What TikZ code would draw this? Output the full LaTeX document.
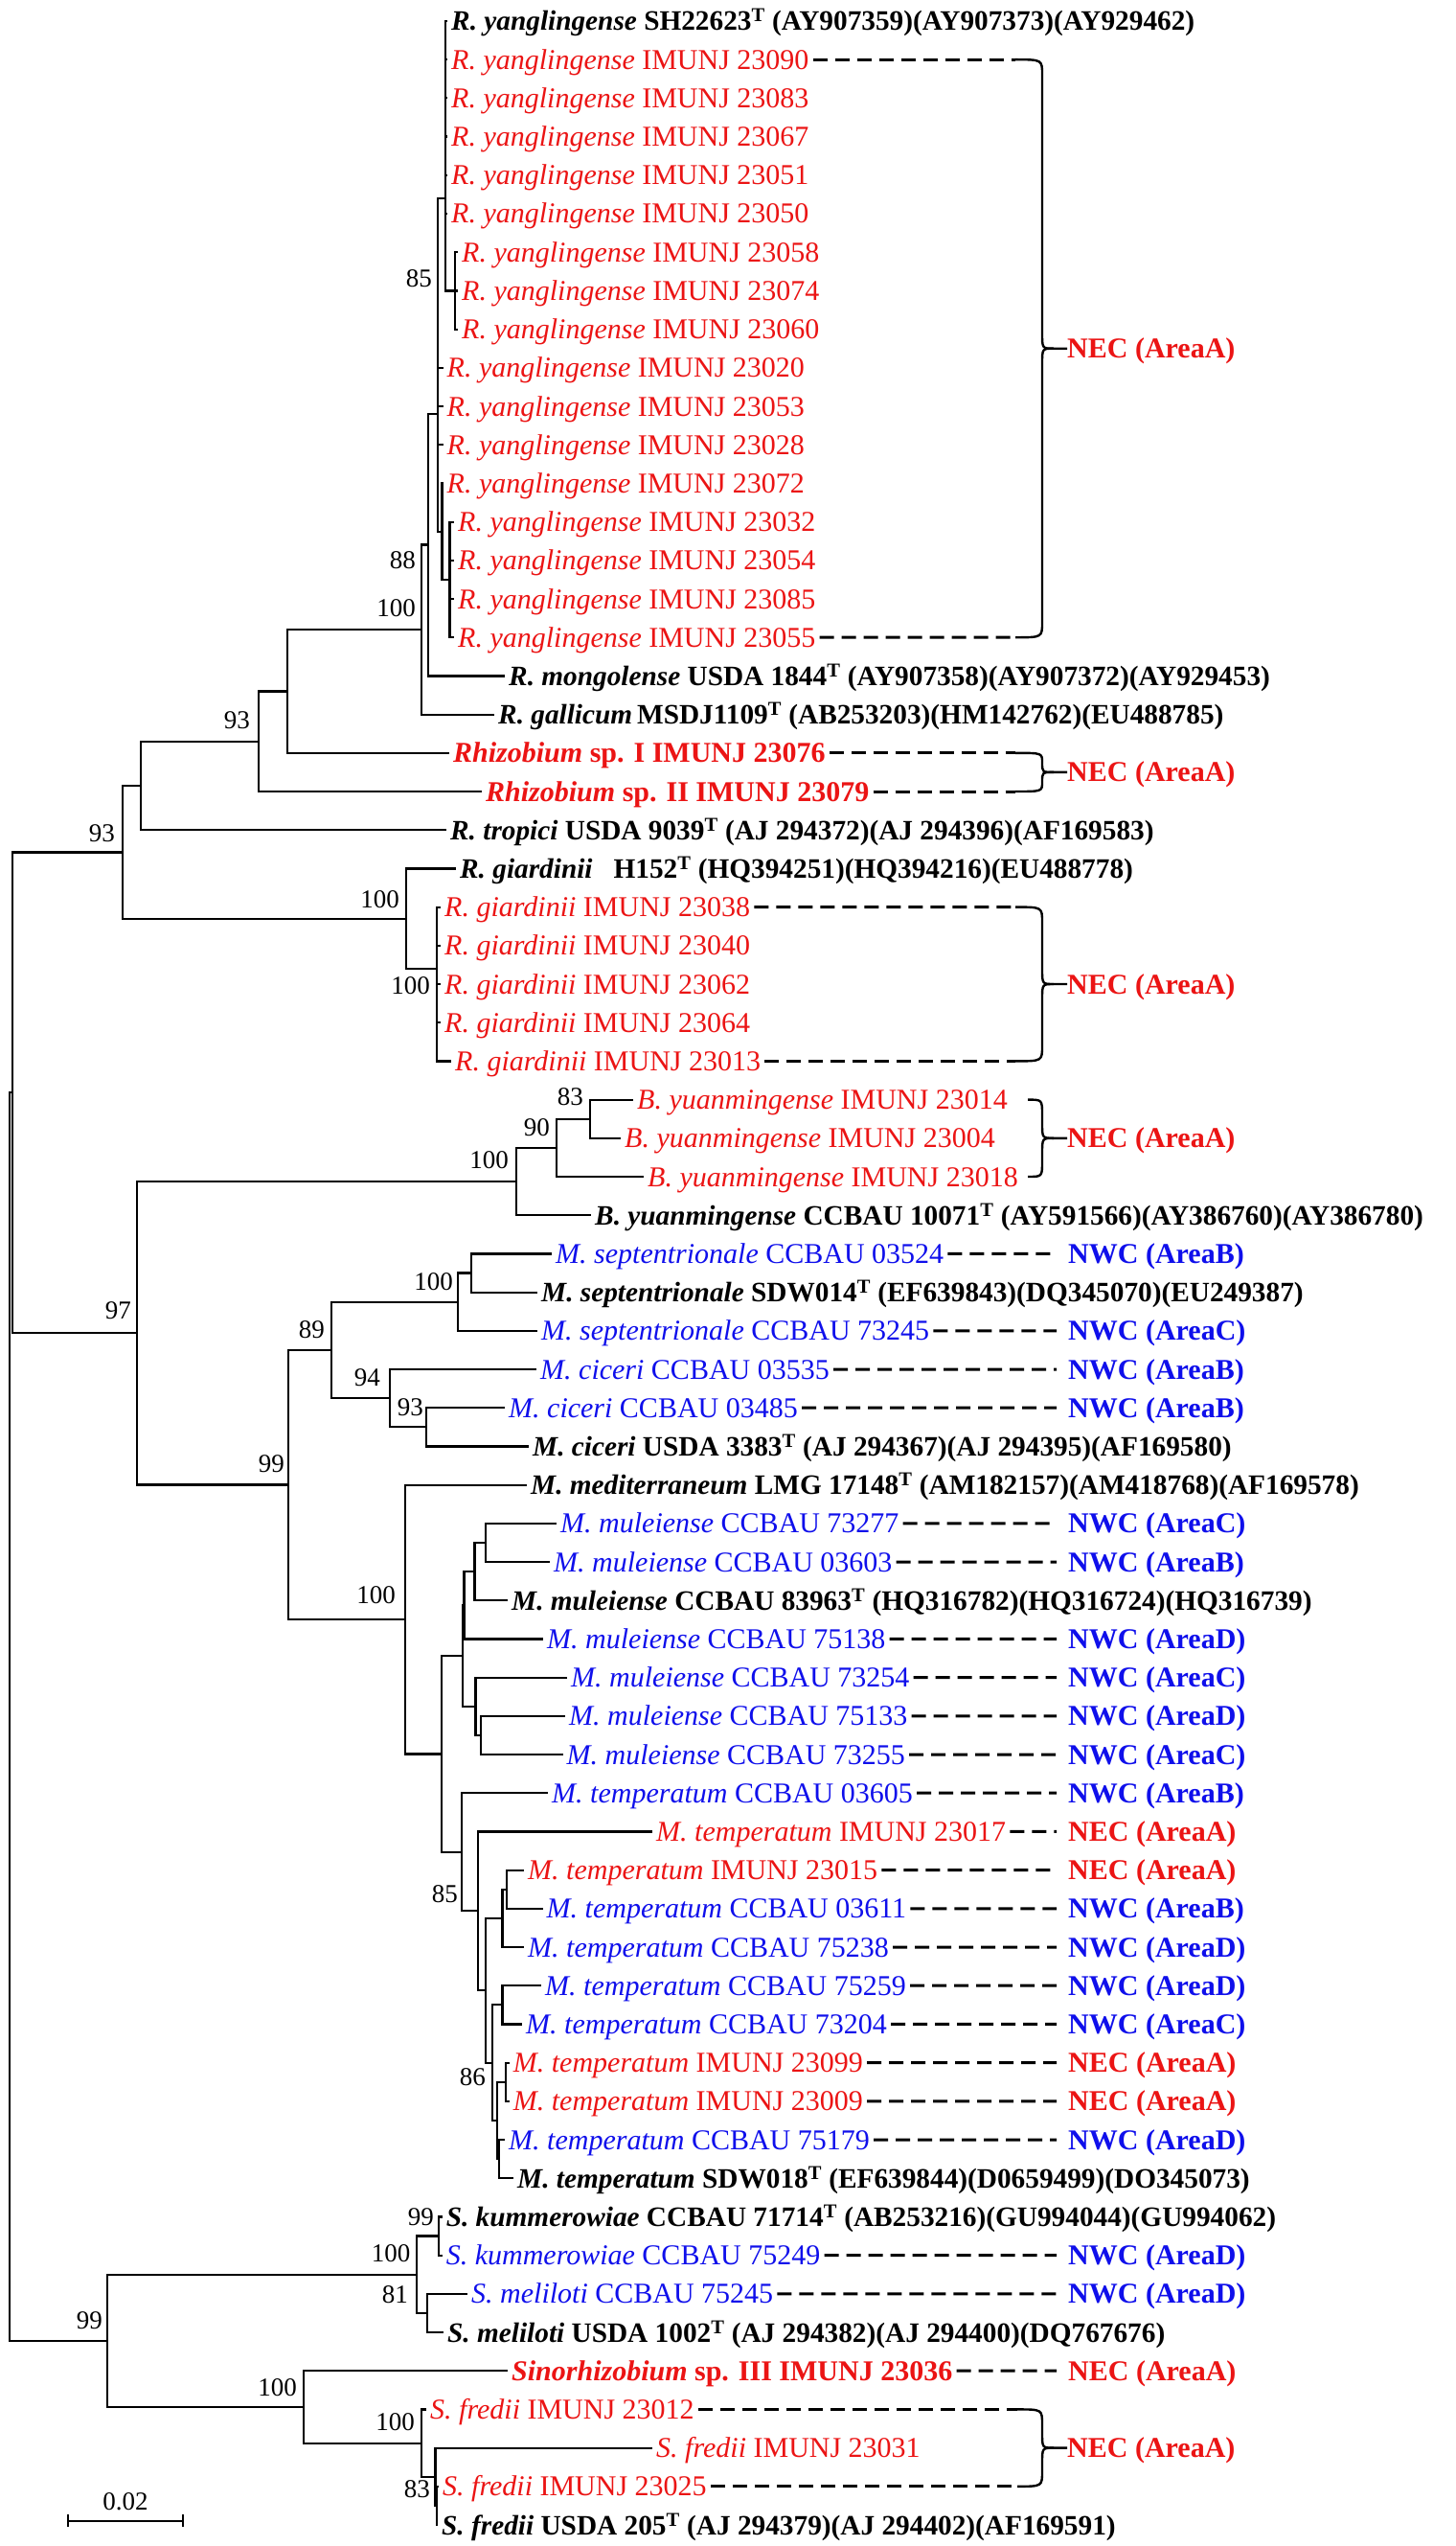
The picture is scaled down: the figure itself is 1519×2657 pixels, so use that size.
\documentclass[tikz,border=0pt]{standalone}
\usepackage{fontspec}
\setmainfont{Liberation Serif}
\definecolor{necred}{RGB}{235,20,20}
\definecolor{nwcblue}{RGB}{15,15,235}

\tikzset{
  branch/.style={line width=2.2pt},
  leaf/.style={anchor=west, inner xsep=4pt, inner ysep=0pt, text height=20pt, text depth=0pt,
    font=\fontsize{30}{36}\selectfont},
  typestr/.style={leaf, font=\fontsize{29.3}{36}\selectfont\bfseries},
  boot/.style={anchor=east, inner sep=0pt, font=\fontsize{27}{32}\selectfont},
  area/.style={anchor=west, inner sep=0pt, text height=20pt, text depth=0pt,
    font=\fontsize{30}{36}\selectfont\bfseries},
  dashln/.style={line width=3pt, dash pattern=on 15pt off 8pt},
  dashto/.style={dashln, shorten >=12pt},
  bracket/.style={line width=2.4pt},
}

% #1 start x, #2 top y, #3 bottom y, #4 label, #5 corner
\newcommand{\areabrace}[5]{%
  \draw[bracket] (#1,#2) .. controls (1088,#2) .. (1088,{#2+#5}) -- (1088,{(#2+#3)/2-#5})
    .. controls (1088,{(#2+#3)/2}) .. (1100,{(#2+#3)/2}) -- (#4.west);
  \draw[bracket] (#1,#3) .. controls (1088,#3) .. (1088,{#3-#5}) -- (1088,{(#2+#3)/2+#5})
    .. controls (1088,{(#2+#3)/2}) .. (1100,{(#2+#3)/2});
}

\begin{document}
\begin{tikzpicture}[x=1pt,y=-1pt]
  \useasboundingbox (0,0) rectangle (1519,2657);

  % inner nodes
  \coordinate (root) at (10,1791.5);
  \coordinate (nA) at (13.3,1140.3);
  \coordinate (nR93o) at (128,889.4);
  \coordinate (nR1) at (147,820);
  \coordinate (nR93i) at (270,773.7);
  \coordinate (nR100a) at (300,721.4);
  \coordinate (nR100y) at (440,657);
  \coordinate (nR88) at (447,568.5);
  \coordinate (nY85) at (457,431.6);
  \coordinate (nV1) at (464.6,207);
  \coordinate (nY7) at (475,303.4);
  \coordinate (nY13) at (461.5,554.6);
  \coordinate (nY14) at (469.5,604.9);
  \coordinate (nG1) at (424,958.7);
  \coordinate (nG2) at (456,1011);
  \coordinate (n97) at (143,1391.3);
  \coordinate (nB100) at (539,1233);
  \coordinate (nB90) at (581,1197.9);
  \coordinate (nB83) at (616,1167.7);
  \coordinate (nM99) at (301,1549.5);
  \coordinate (nM89) at (346,1409);
  \coordinate (nMs100) at (478,1358.7);
  \coordinate (nMs) at (492,1328.5);
  \coordinate (nMc94) at (407,1459.2);
  \coordinate (nMc93) at (445,1489.3);
  \coordinate (nM100) at (423,1690);
  \coordinate (nMm) at (461,1830.4);
  \coordinate (nMu1) at (483,1728);
  \coordinate (nMu2) at (484.4,1675.2);
  \coordinate (nMu3) at (495.5,1640);
  \coordinate (nMu4) at (507,1609.9);
  \coordinate (nMu5) at (496.5,1780.8);
  \coordinate (nMu6) at (502,1810.9);
  \coordinate (nMt85) at (482,1932.8);
  \coordinate (nMt2) at (498.7,1994.3);
  \coordinate (nMt3) at (507,2077.3);
  \coordinate (nMt4) at (524.5,2001.9);
  \coordinate (nMt5) at (529,1971.7);
  \coordinate (nMt86) at (514,2152.6);
  \coordinate (nMt6) at (524.5,2092.3);
  \coordinate (nMt7) at (518.7,2212.9);
  \coordinate (nMt8) at (527.7,2172.7);
  \coordinate (nMt9) at (521,2253.1);
  \coordinate (nS99) at (111.6,2442.8);
  \coordinate (nS100a) at (435,2373.7);
  \coordinate (nSk) at (457.6,2333.5);
  \coordinate (nSm) at (446,2413.9);
  \coordinate (nS100b) at (317,2511.9);
  \coordinate (nSf100) at (440,2549.6);
  \coordinate (nSf83) at (454.5,2584.8);
  \coordinate (nSf2) at (456,2614.9);

  % Rhizobium leaves
  \node[typestr] (l1) at (467,22) {\textit{R. yanglingense} SH22623\textsuperscript{T} (AY907359)(AY907373)(AY929462)};
  \foreach \n/\id in {2/23090,3/23083,4/23067,5/23051,6/23050}
    \node[leaf,necred] (l\n) at (467,{22+(\n-1)*40.2}) {\textit{R. yanglingense} IMUNJ \id};
  \foreach \n/\id in {7/23058,8/23074,9/23060}
    \node[leaf,necred] (l\n) at (478,{22+(\n-1)*40.2}) {\textit{R. yanglingense} IMUNJ \id};
  \foreach \n/\id in {10/23020,11/23053,12/23028,13/23072}
    \node[leaf,necred] (l\n) at (462.5,{22+(\n-1)*40.2}) {\textit{R. yanglingense} IMUNJ \id};
  \foreach \n/\id in {14/23032,15/23054,16/23085,17/23055}
    \node[leaf,necred] (l\n) at (474,{22+(\n-1)*40.2}) {\textit{R. yanglingense} IMUNJ \id};
  \node[typestr] (l18) at (527,705.4) {\textit{R. mongolense} USDA 1844\textsuperscript{T} (AY907358)(AY907372)(AY929453)};
  \node[typestr] (l19) at (516,745.6) {\textit{R. gallicum}\,MSDJ1109\textsuperscript{T} (AB253203)(HM142762)(EU488785)};
  \node[leaf,necred] (l20) at (469,785.8) {\textbf{\textit{Rhizobium} sp. I IMUNJ 23076}};
  \node[leaf,necred] (l21) at (503,826) {\textbf{\textit{Rhizobium} sp. II IMUNJ 23079}};
  \node[typestr] (l22) at (466,866.2) {\textit{R. tropici} USDA 9039\textsuperscript{T} (AJ 294372)(AJ 294396)(AF169583)};
  \node[typestr] (l23) at (476,906.4) {\textit{R. giardinii}\hspace{0.5em} H152\textsuperscript{T} (HQ394251)(HQ394216)(EU488778)};
  \foreach \n/\id in {24/23038,25/23040,26/23062,27/23064}
    \node[leaf,necred] (l\n) at (460,{22+(\n-1)*40.2}) {\textit{R. giardinii} IMUNJ \id};
  \node[leaf,necred] (l28) at (471,1107.4) {\textit{R. giardinii} IMUNJ 23013};

  % Bradyrhizobium leaves
  \node[leaf,necred] (l29) at (661,1147.6) {\textit{B. yuanmingense} IMUNJ 23014};
  \node[leaf,necred] (l30) at (648,1187.8) {\textit{B. yuanmingense} IMUNJ 23004};
  \node[leaf,necred] (l31) at (672,1228) {\textit{B. yuanmingense} IMUNJ 23018};
  \node[typestr] (l32) at (617,1268.2) {\textit{B. yuanmingense} CCBAU 10071\textsuperscript{T} (AY591566)(AY386760)(AY386780)};

  % Mesorhizobium leaves
  \node[leaf,nwcblue] (l33) at (576,1308.4) {\textit{M. septentrionale} CCBAU 03524};
  \node[typestr] (l34) at (561,1348.6) {\textit{M. septentrionale} SDW014\textsuperscript{T} (EF639843)(DQ345070)(EU249387)};
  \node[leaf,nwcblue] (l35) at (561,1388.8) {\textit{M. septentrionale} CCBAU 73245};
  \node[leaf,nwcblue] (l36) at (560,1429) {\textit{M. ciceri} CCBAU 03535};
  \node[leaf,nwcblue] (l37) at (527,1469.2) {\textit{M. ciceri} CCBAU 03485};
  \node[typestr] (l38) at (552,1509.4) {\textit{M. ciceri} USDA 3383\textsuperscript{T} (AJ 294367)(AJ 294395)(AF169580)};
  \node[typestr] (l39) at (550,1549.6) {\textit{M. mediterraneum} LMG 17148\textsuperscript{T} (AM182157)(AM418768)(AF169578)};
  \node[leaf,nwcblue] (l40) at (581,1589.8) {\textit{M. muleiense} CCBAU 73277};
  \node[leaf,nwcblue] (l41) at (574,1630) {\textit{M. muleiense} CCBAU 03603};
  \node[typestr] (l42) at (530,1670.2) {\textit{M. muleiense} CCBAU 83963\textsuperscript{T} (HQ316782)(HQ316724)(HQ316739)};
  \node[leaf,nwcblue] (l43) at (567,1710.4) {\textit{M. muleiense} CCBAU 75138};
  \node[leaf,nwcblue] (l44) at (592,1750.6) {\textit{M. muleiense} CCBAU 73254};
  \node[leaf,nwcblue] (l45) at (590,1790.8) {\textit{M. muleiense} CCBAU 75133};
  \node[leaf,nwcblue] (l46) at (587.5,1831) {\textit{M. muleiense} CCBAU 73255};
  \node[leaf,nwcblue] (l47) at (572,1871.2) {\textit{M. temperatum} CCBAU 03605};
  \node[leaf,necred] (l48) at (681,1911.4) {\textit{M. temperatum} IMUNJ 23017};
  \node[leaf,necred] (l49) at (547,1951.6) {\textit{M. temperatum} IMUNJ 23015};
  \node[leaf,nwcblue] (l50) at (566.5,1991.8) {\textit{M. temperatum} CCBAU 03611};
  \node[leaf,nwcblue] (l51) at (547,2032) {\textit{M. temperatum} CCBAU 75238};
  \node[leaf,nwcblue] (l52) at (565,2072.2) {\textit{M. temperatum} CCBAU 75259};
  \node[leaf,nwcblue] (l53) at (545,2112.4) {\textit{M. temperatum} CCBAU 73204};
  \node[leaf,necred] (l54) at (531.7,2152.6) {\textit{M. temperatum} IMUNJ 23099};
  \node[leaf,necred] (l55) at (531.7,2192.8) {\textit{M. temperatum} IMUNJ 23009};
  \node[leaf,nwcblue] (l56) at (527,2233) {\textit{M. temperatum} CCBAU 75179};
  \node[typestr] (l57) at (536,2273.2) {\textit{M. temperatum} SDW018\textsuperscript{T} (EF639844)(D0659499)(DO345073)};

  % Sinorhizobium leaves
  \node[typestr] (l58) at (461.6,2313.4) {\textit{S. kummerowiae} CCBAU 71714\textsuperscript{T} (AB253216)(GU994044)(GU994062)};
  \node[leaf,nwcblue] (l59) at (461.6,2353.6) {\textit{S. kummerowiae} CCBAU 75249};
  \node[leaf,nwcblue] (l60) at (488,2393.8) {\textit{S. meliloti} CCBAU 75245};
  \node[typestr] (l61) at (463,2434) {\textit{S. meliloti} USDA 1002\textsuperscript{T} (AJ 294382)(AJ 294400)(DQ767676)};
  \node[leaf,necred] (l62) at (530,2474.2) {\textbf{\textit{Sinorhizobium} sp. III IMUNJ 23036}};
  \node[leaf,necred] (l63) at (445,2514.4) {\textit{S. fredii} IMUNJ 23012};
  \node[leaf,necred] (l64) at (681,2554.6) {\textit{S. fredii} IMUNJ 23031};
  \node[leaf,necred] (l65) at (458,2594.8) {\textit{S. fredii} IMUNJ 23025};
  \node[typestr] (l66) at (457,2635) {\textit{S. fredii} USDA 205\textsuperscript{T} (AJ 294379)(AJ 294402)(AF169591)};

  % Branches
  \draw[branch] (root) |- (nA);
  \draw[branch] (root) |- (nS99);
  \draw[branch] (nA) |- (nR93o);
  \draw[branch] (nA) |- (n97);
  \draw[branch] (nR93o) |- (nR1);
  \draw[branch] (nR93o) |- (nG1);
  \draw[branch] (nR1) |- (nR93i);
  \draw[branch] (nR1) |- (l22.west);
  \draw[branch] (nR93i) |- (nR100a);
  \draw[branch] (nR93i) |- (l21.west);
  \draw[branch] (nR100a) |- (nR100y);
  \draw[branch] (nR100a) |- (l20.west);
  \draw[branch] (nR100y) |- (nR88);
  \draw[branch] (nR100y) |- (l19.west);
  \draw[branch] (nR88) |- (nY85);
  \draw[branch] (nR88) |- (l18.west);
  \draw[branch] (nY85) |- (nV1);
  \draw[branch] (nY85) |- (nY13);
  \foreach \n in {10,11,12} \draw[branch] (nY85) |- (l\n.west);
  \foreach \n in {1,...,6} \draw[branch] (nV1) |- (l\n.west);
  \draw[branch] (nV1) |- (nY7);
  \foreach \n in {7,8,9} \draw[branch] (nY7) |- (l\n.west);
  \draw[branch] (nY13) |- (l13.west);
  \draw[branch] (nY13) |- (nY14);
  \foreach \n in {14,...,17} \draw[branch] (nY14) |- (l\n.west);
  \draw[branch] (nG1) |- (l23.west);
  \draw[branch] (nG1) |- (nG2);
  \foreach \n in {24,...,28} \draw[branch] (nG2) |- (l\n.west);

  \draw[branch] (n97) |- (nB100);
  \draw[branch] (n97) |- (nM99);
  \draw[branch] (nB100) |- (nB90);
  \draw[branch] (nB100) |- (l32.west);
  \draw[branch] (nB90) |- (nB83);
  \draw[branch] (nB90) |- (l31.west);
  \draw[branch] (nB83) |- (l29.west);
  \draw[branch] (nB83) |- (l30.west);

  \draw[branch] (nM99) |- (nM89);
  \draw[branch] (nM99) |- (nM100);
  \draw[branch] (nM89) |- (nMs100);
  \draw[branch] (nM89) |- (nMc94);
  \draw[branch] (nMs100) |- (nMs);
  \draw[branch] (nMs100) |- (l35.west);
  \draw[branch] (nMs) |- (l33.west);
  \draw[branch] (nMs) |- (l34.west);
  \draw[branch] (nMc94) |- (l36.west);
  \draw[branch] (nMc94) |- (nMc93);
  \draw[branch] (nMc93) |- (l37.west);
  \draw[branch] (nMc93) |- (l38.west);
  \draw[branch] (nM100) |- (l39.west);
  \draw[branch] (nM100) |- (nMm);
  \draw[branch] (nMm) |- (nMu1);
  \draw[branch] (nMm) |- (nMt85);
  \draw[branch] (nMu1) |- (nMu2);
  \draw[branch] (nMu1) |- (nMu5);
  \draw[branch] (nMu2) |- (nMu3);
  \draw[branch] (nMu2) |- (l43.west);
  \draw[branch] (nMu3) |- (nMu4);
  \draw[branch] (nMu3) |- (l42.west);
  \draw[branch] (nMu4) |- (l40.west);
  \draw[branch] (nMu4) |- (l41.west);
  \draw[branch] (nMu5) |- (l44.west);
  \draw[branch] (nMu5) |- (nMu6);
  \draw[branch] (nMu6) |- (l45.west);
  \draw[branch] (nMu6) |- (l46.west);
  \draw[branch] (nMt85) |- (l47.west);
  \draw[branch] (nMt85) |- (nMt2);
  \draw[branch] (nMt2) |- (l48.west);
  \draw[branch] (nMt2) |- (nMt3);
  \draw[branch] (nMt3) |- (nMt4);
  \draw[branch] (nMt3) |- (nMt86);
  \draw[branch] (nMt4) |- (nMt5);
  \draw[branch] (nMt4) |- (l51.west);
  \draw[branch] (nMt5) |- (l49.west);
  \draw[branch] (nMt5) |- (l50.west);
  \draw[branch] (nMt86) |- (nMt6);
  \draw[branch] (nMt86) |- (nMt7);
  \draw[branch] (nMt6) |- (l52.west);
  \draw[branch] (nMt6) |- (l53.west);
  \draw[branch] (nMt7) |- (nMt8);
  \draw[branch] (nMt7) |- (nMt9);
  \draw[branch] (nMt8) |- (l54.west);
  \draw[branch] (nMt8) |- (l55.west);
  \draw[branch] (nMt9) |- (l56.west);
  \draw[branch] (nMt9) |- (l57.west);

  \draw[branch] (nS99) |- (nS100a);
  \draw[branch] (nS99) |- (nS100b);
  \draw[branch] (nS100a) |- (nSk);
  \draw[branch] (nS100a) |- (nSm);
  \draw[branch] (nSk) |- (l58.west);
  \draw[branch] (nSk) |- (l59.west);
  \draw[branch] (nSm) |- (l60.west);
  \draw[branch] (nSm) |- (l61.west);
  \draw[branch] (nS100b) |- (l62.west);
  \draw[branch] (nS100b) |- (nSf100);
  \draw[branch] (nSf100) |- (l63.west);
  \draw[branch] (nSf100) |- (nSf83);
  \draw[branch] (nSf83) |- (l64.west);
  \draw[branch] (nSf83) |- (nSf2);
  \draw[branch] (nSf2) |- (l65.west);
  \draw[branch] (nSf2) |- (l66.west);

  % Bootstrap values
  \node[boot] (b1) at (451,291) {85};
  \node[boot] (b2) at (434,585) {88};
  \node[boot] (b3) at (434,635) {100};
  \node[boot] (b4) at (261,752) {93};
  \node[boot] (b5) at (120,870) {93};
  \node[boot] (b6) at (417,939) {100};
  \node[boot] (b7) at (449,1029) {100};
  \node[boot] (b8) at (609,1145) {83};
  \node[boot] (b9) at (574,1177) {90};
  \node[boot] (b10) at (531,1211) {100};
  \node[boot] (b11) at (137,1368) {97};
  \node[boot] (b12) at (473,1338) {100};
  \node[boot] (b13) at (339,1388) {89};
  \node[boot] (b14) at (397,1438) {94};
  \node[boot] (b15) at (442,1469) {93};
  \node[boot] (b16) at (297,1528) {99};
  \node[boot] (b17) at (413,1665) {100};
  \node[boot] (b18) at (478,1977) {85};
  \node[boot] (b19) at (507,2168) {86};
  \node[boot] (b20) at (453,2313.5) {99};
  \node[boot] (b21) at (428.6,2352) {100};
  \node[boot] (b22) at (426,2395) {81};
  \node[boot] (b23) at (107,2422) {99};
  \node[boot] (b24) at (310,2492) {100};
  \node[boot] (b25) at (433,2528) {100};
  \node[boot] (b26) at (449,2598) {83};

  % Areas with brackets
  \node[area,necred] (a1) at (1114,363.7) {NEC (AreaA)};
  \node[area,necred] (a2) at (1114,805.9) {NEC (AreaA)};
  \node[area,necred] (a3) at (1114,1027) {NEC (AreaA)};
  \node[area,necred] (a4) at (1114,1187.8) {NEC (AreaA)};
  \node[area,necred] (a5) at (1114,2554.6) {NEC (AreaA)};
  \coordinate (e2) at (1060,62.2);
  \coordinate (e17) at (1060,665.2);
  \coordinate (e20) at (1060,785.8);
  \coordinate (e21) at (1060,826);
  \coordinate (e24) at (1060,946.6);
  \coordinate (e28) at (1060,1107.4);
  \coordinate (e63) at (1062,2514.4);
  \coordinate (e65) at (1062,2594.8);
  \foreach \n in {2,17,20,21,24,28,63,65}
    \draw[dashln] (l\n.east) -- (e\n);
  \areabrace{1060}{62.2}{665.2}{a1}{16}
  \areabrace{1060}{785.8}{826}{a2}{10}
  \areabrace{1060}{946.6}{1107.4}{a3}{16}
  \areabrace{1073}{1147.6}{1228}{a4}{16}
  \areabrace{1062}{2514.4}{2594.8}{a5}{16}

  % Areas, one strain each
  \foreach \n/\cl/\pre/\ar in {33/nwcblue/NWC/B,35/nwcblue/NWC/C,36/nwcblue/NWC/B,37/nwcblue/NWC/B,
      40/nwcblue/NWC/C,41/nwcblue/NWC/B,43/nwcblue/NWC/D,44/nwcblue/NWC/C,45/nwcblue/NWC/D,
      46/nwcblue/NWC/C,47/nwcblue/NWC/B,48/necred/NEC/A,49/necred/NEC/A,50/nwcblue/NWC/B,
      51/nwcblue/NWC/D,52/nwcblue/NWC/D,53/nwcblue/NWC/C,54/necred/NEC/A,55/necred/NEC/A,
      56/nwcblue/NWC/D,59/nwcblue/NWC/D,60/nwcblue/NWC/D,62/necred/NEC/A}
    {
      \node[area,\cl] (a\n) at (1115,{22+(\n-1)*40.2}) {\pre{} (Area\ar)};
      \draw[dashto] (l\n.east) -- (a\n.west);
    }

  % Scale bar
  \coordinate (s0) at (71,2630.7);
  \coordinate (s1) at (191,2630.7);
  \draw[branch] (s0) -- (s1);
  \draw[branch] ([yshift=-6.5pt]s0) -- ([yshift=6.5pt]s0);
  \draw[branch] ([yshift=-6.5pt]s1) -- ([yshift=6.5pt]s1);
  \node[boot, anchor=south] (scale) at (131,2620) {0.02};
\end{tikzpicture}
\end{document}
